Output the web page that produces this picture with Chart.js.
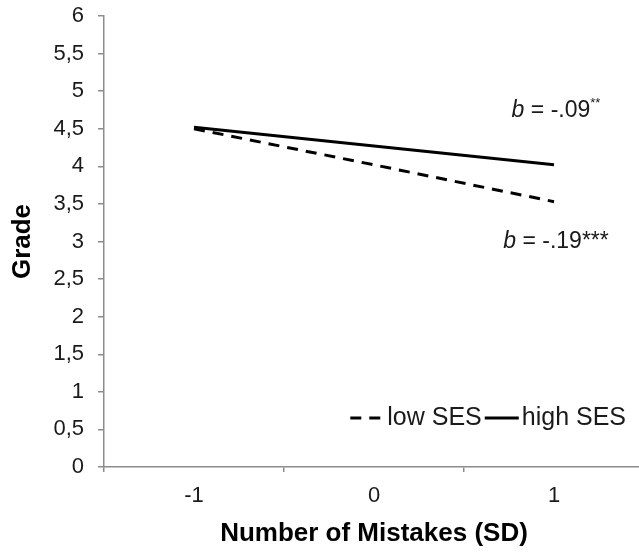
<!DOCTYPE html>
<html>
<head>
<meta charset="utf-8">
<script src="https://cdn.jsdelivr.net/npm/chart.js@4/dist/chart.umd.min.js"></script>
<style>
  html, body { margin: 0; padding: 0; overflow: hidden; background: #fff; }
  #wrap { width: 644px; height: 552px; }
</style>
</head>
<body>
<div id="wrap"><canvas id="grafico" width="644" height="552"></canvas></div>
<script>
// -------------------------------
// DADOS
// -------------------------------
const categorias = ["-1", "0", "1"];
const nomesSeries = ["low SES", "high SES"];
const lowSES = [4.50, 4.02, 3.53];
const highSES = [4.52, 4.27, 4.02];
const yTicks = [0, 0.5, 1, 1.5, 2, 2.5, 3, 3.5, 4, 4.5, 5, 5.5, 6];

// anotações (coeficientes) : texto, sobrescrito, valor y da linha de base
const anotTextos = [" = -.09", " = -.19***"];
const anotSobrescritos = ["**", ""];
const anotY = [4.656, 2.913];

const corTexto = "#1a1a1a";
const corEixo = "#8c8c8c";
const fonte = "'Liberation Sans', Arial, sans-serif";

// -------------------------------
// PLUGIN: LEGENDA DENTRO DO GRÁFICO
// -------------------------------
const legendaInterna = {
  id: "legendaInterna",
  afterDraw(chart) {
    const ctx = chart.ctx;
    const y = 418;
    const larguraLinha = 34;
    ctx.save();
    ctx.font = "25px " + fonte;
    ctx.textBaseline = "middle";
    ctx.fillStyle = corTexto;
    // da direita para a esquerda
    let x = 626;
    const itens = chart.data.datasets.map(d => d).reverse();
    itens.forEach(ds => {
      const w = ctx.measureText(ds.label).width;
      x -= w;
      ctx.fillText(ds.label, x, y);
      x -= 3;
      ctx.beginPath();
      ctx.setLineDash(ds.borderDash || []);
      ctx.lineWidth = ds.borderWidth;
      ctx.strokeStyle = ds.borderColor;
      ctx.moveTo(x - larguraLinha, y);
      ctx.lineTo(x, y);
      ctx.stroke();
      ctx.setLineDash([]);
      x -= larguraLinha + 3;
    });
    ctx.restore();
  }
};

// -------------------------------
// PLUGIN: COEFICIENTES b
// -------------------------------
const coeficientes = {
  id: "coeficientes",
  afterDatasetsDraw(chart) {
    const ctx = chart.ctx;
    const xs = chart.scales.x;
    const ys = chart.scales.y;
    const cx = xs.getPixelForValue(categorias.length - 1) + 2;
    ctx.save();
    ctx.fillStyle = corTexto;
    ctx.textBaseline = "alphabetic";
    anotTextos.forEach((t, i) => {
      const fItal = "italic 23px " + fonte;
      const fNorm = "23px " + fonte;
      const fSup = "13px " + fonte;
      ctx.font = fItal;
      const wb = ctx.measureText("b").width;
      ctx.font = fNorm;
      const wt = ctx.measureText(t).width;
      ctx.font = fSup;
      const ws = ctx.measureText(anotSobrescritos[i]).width;
      let x = cx - (wb + wt + ws) / 2;
      const y = ys.getPixelForValue(anotY[i]);
      ctx.font = fItal;
      ctx.fillText("b", x, y);
      x += wb;
      ctx.font = fNorm;
      ctx.fillText(t, x, y);
      x += wt;
      ctx.font = fSup;
      ctx.fillText(anotSobrescritos[i], x, y - 10);
    });
    ctx.restore();
  }
};

// -------------------------------
// GRÁFICO
// -------------------------------
new Chart(document.getElementById("grafico"), {
  type: "line",
  data: {
    labels: categorias,
    datasets: [
      {
        label: nomesSeries[0],
        data: lowSES,
        borderColor: "#000",
        borderWidth: 3,
        borderDash: [11, 8],
        pointRadius: 0,
        tension: 0,
        fill: false
      },
      {
        label: nomesSeries[1],
        data: highSES,
        borderColor: "#000",
        borderWidth: 3,
        pointRadius: 0,
        tension: 0,
        fill: false
      }
    ]
  },
  options: {
    responsive: false,
    animation: false,
    layout: { padding: { top: 16, right: 0, bottom: 0, left: 0 } },
    plugins: {
      legend: { display: false },
      tooltip: { enabled: false }
    },
    scales: {
      x: {
        type: "category",
        offset: true,
        grid: {
          offset: true,
          drawOnChartArea: false,
          drawTicks: true,
          tickLength: 5,
          color: corEixo,
          lineWidth: 1.5
        },
        border: { color: corEixo, width: 1.5 },
        ticks: {
          color: corTexto,
          font: { family: fonte, size: 22 },
          padding: 11,
          maxRotation: 0
        },
        title: {
          display: true,
          text: "Number of Mistakes (SD)",
          color: "#000",
          font: { family: fonte, size: 26, weight: "bold" },
          padding: { top: 0, bottom: 3 }
        },
        afterFit: (s) => { s.height = 85; s.paddingLeft = 0; s.paddingRight = 0; }
      },
      y: {
        min: 0,
        max: 6,
        afterBuildTicks: (s) => { s.ticks = yTicks.map(v => ({ value: v })); },
        grid: {
          drawOnChartArea: false,
          drawTicks: true,
          tickLength: 6,
          color: corEixo,
          lineWidth: 1.5
        },
        border: { color: corEixo, width: 1.5 },
        ticks: {
          color: corTexto,
          font: { family: fonte, size: 22 },
          padding: 14,
          callback: (v) => String(v).replace(".", ",")
        },
        title: {
          display: true,
          text: "Grade",
          color: "#000",
          font: { family: fonte, size: 26, weight: "bold" },
          padding: { top: 7, bottom: 0 }
        },
        afterFit: (s) => { s.width = 104; s.paddingTop = 0; s.paddingBottom = 0; }
      }
    }
  },
  plugins: [coeficientes, legendaInterna]
});
</script>
</body>
</html>
